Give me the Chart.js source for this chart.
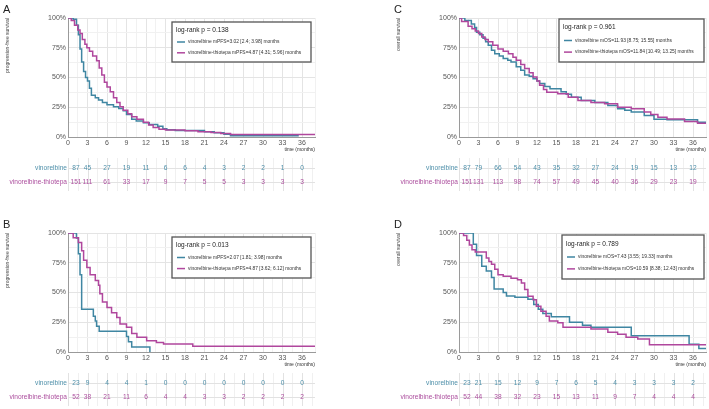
<!DOCTYPE html>
<html>
<head>
<meta charset="utf-8">
<script src="https://cdn.jsdelivr.net/npm/chart.js@4.4.1/dist/chart.umd.min.js"></script>
<style>
  body { margin: 0; background: #fff; width: 709px; height: 409px; position: relative; overflow: hidden; }
  .panel { position: absolute; width: 318px; height: 215px; }
</style>
</head>
<body>
<div class="panel" style="left:0;top:0"><canvas id="chartA" width="318" height="215"></canvas></div>
<div class="panel" style="left:391px;top:0"><canvas id="chartC" width="318" height="215"></canvas></div>
<div class="panel" style="left:0;top:215px"><canvas id="chartB" width="318" height="215"></canvas></div>
<div class="panel" style="left:391px;top:215px"><canvas id="chartD" width="318" height="215"></canvas></div>
<script>
// time points of the number-at-risk table (months)
var riskTimes = [0, 3, 6, 9, 12, 15, 18, 21, 24, 27, 30, 33, 36];
var groupNames = ['vinorelbine', 'vinorelbine-thiotepa'];

// A: progression-free survival, all patients
var aVinTime = [0, 0.8, 1.3, 1.6, 1.85, 2.1, 2.4, 2.7, 3.0, 3.3, 3.6, 4.2, 4.7, 5.3, 6.0, 7.0, 7.8, 8.5, 9.0, 9.8, 10.5, 11.6, 12.5, 13.8, 14.6, 15.2, 16.5, 21.0, 22.5, 24.0, 25.0, 35.5];
var aVinSurv = [100, 98.9, 94, 86, 74, 63, 55, 50, 47, 41, 35, 33, 31, 29, 27, 25.5, 24, 22, 19, 15, 13.5, 12, 10.5, 9, 7, 6, 5.5, 4.5, 3.5, 2.3, 1.1, 1.1];
var aThioTime = [0, 0.5, 1.0, 1.5, 1.85, 2.2, 2.6, 2.9, 3.3, 3.8, 4.4, 4.8, 5.2, 5.6, 6.0, 6.5, 7.0, 7.5, 8.0, 8.5, 9.2, 9.8, 10.6, 11.6, 12.4, 13.1, 14.0, 15.0, 18.0, 20.0, 22.0, 23.5, 25.0, 38];
var aThioSurv = [100, 98, 94, 90, 87, 82, 78, 75, 72, 68, 64, 58, 52, 46, 42, 38, 33, 29, 25.5, 22.5, 19.5, 17, 15, 12.5, 10, 8, 6.5, 5.8, 5.2, 4.5, 3.8, 3, 2, 2];
var aRiskVin = [87, 45, 27, 19, 11, 6, 6, 4, 3, 2, 2, 1, 0];
var aRiskThio = [151, 111, 61, 33, 17, 9, 7, 5, 5, 3, 3, 3, 3];
var aLegend = ['vinorelbine mPFS=3.02 [2.4; 3.98] months', 'vinorelbine-thiotepa mPFS=4.87 [4.31; 5.96] months'];

// B: progression-free survival, subgroup
var bVinTime = [0, 1.3, 1.6, 1.85, 2.1, 3.9, 4.2, 4.4, 4.8, 9.0, 9.3, 9.8, 12.6];
var bVinSurv = [100, 95.7, 82.6, 65, 36, 30, 26, 21.7, 17.4, 13, 8.7, 4.3, 0];
var bThioTime = [0, 0.8, 1.6, 2.1, 2.4, 2.9, 3.4, 4.2, 4.7, 4.9, 5.3, 6.0, 6.7, 7.5, 8.0, 9.0, 9.8, 10.6, 12.1, 13.6, 14.7, 19.2, 38];
var bThioSurv = [100, 96, 92, 85, 77, 71, 65, 60, 56, 49, 42, 37.5, 33, 29, 23.5, 20.7, 15.5, 12.3, 9.5, 8, 6.7, 4.8, 4.8];
var bRiskVin = [23, 9, 4, 4, 1, 0, 0, 0, 0, 0, 0, 0, 0];
var bRiskThio = [52, 38, 21, 11, 6, 4, 4, 3, 3, 2, 2, 2, 2];
var bLegend = ['vinorelbine mPFS=2.07 [1.81; 3.98] months', 'vinorelbine-thiotepa mPFS=4.87 [3.62; 6.12] months'];

// C: overall survival, all patients
var cVinTime = [0, 0.9, 1.9, 2.4, 2.7, 3.2, 3.7, 4.1, 4.5, 5.0, 5.5, 6.2, 6.8, 7.5, 8.0, 8.8, 9.5, 10.1, 10.8, 11.4, 12.0, 12.4, 13.2, 14.0, 15.7, 16.5, 17.3, 18.8, 20.9, 22.9, 24.4, 25.5, 26.5, 28.5, 30.0, 32.0, 36.7, 38];
var cVinSurv = [100, 98, 95, 92, 88, 86, 83, 80, 77, 73, 70, 68, 66, 64.5, 63, 59, 56, 52, 51, 49, 47, 45, 42.5, 40.5, 38, 36, 33.5, 30.7, 29, 26.5, 23.7, 22.5, 21, 18, 15, 14.4, 12.4, 12.4];
var cThioTime = [0, 0.4, 1.4, 2.0, 2.5, 3.0, 3.5, 4.0, 4.5, 5.2, 6.0, 6.8, 7.6, 8.3, 8.8, 9.5, 10.1, 10.8, 11.4, 12.0, 12.4, 13.0, 13.5, 15.2, 16.8, 18.3, 20.3, 22.4, 24.4, 26.5, 28.5, 29.5, 30.6, 32.0, 34.7, 36.7, 38];
var cThioSurv = [100, 97, 93, 91, 89, 87, 84, 82, 80, 77, 74, 72, 70, 67, 64.5, 61, 57.5, 54, 50.5, 47, 43.4, 40, 37.7, 36.3, 33.5, 30.7, 29, 28, 25, 23.7, 21, 19, 16.6, 15.2, 13, 11.5, 11.5];
var cRiskVin = [87, 79, 66, 54, 43, 35, 32, 27, 24, 19, 15, 13, 12];
var cRiskThio = [151, 131, 113, 98, 74, 57, 49, 45, 40, 36, 29, 23, 19];
var cLegend = ['vinorelbine mOS=11.93 [8.75; 15.55] months', 'vinorelbine-thiotepa mOS=11.84 [10.49; 13.25] months'];

// D: overall survival, subgroup
var dVinTime = [0, 2.2, 2.7, 3.5, 4.2, 5.0, 5.4, 6.8, 7.3, 8.6, 10.6, 11.5, 12.2, 12.9, 14.2, 17.0, 19.0, 20.3, 26.5, 35.4, 36.9, 38];
var dVinSurv = [100, 90.5, 81, 72, 68, 62.6, 53, 50, 47, 46, 44.4, 40, 36, 32.4, 29.6, 25, 22.5, 20.7, 13.7, 6.5, 2.9, 2.9];
var dThioTime = [0, 0.7, 1.2, 1.6, 2.0, 2.5, 4.2, 4.6, 5.0, 5.5, 6.0, 6.8, 8.0, 9.0, 9.6, 10.1, 10.6, 11.4, 11.9, 12.6, 13.4, 13.9, 15.2, 16.0, 20.3, 22.9, 24.4, 25.7, 27.5, 29.3, 38];
var dThioSurv = [100, 98, 94, 90, 86, 84, 79, 76, 73.7, 69.5, 65, 63.6, 62, 60.8, 58, 52.5, 46.9, 44, 38.5, 34.3, 30.1, 26, 24.6, 20.7, 19.3, 16.5, 15, 12.3, 10.9, 6, 6];
var dRiskVin = [23, 21, 15, 12, 9, 7, 6, 5, 4, 3, 3, 3, 2];
var dRiskThio = [52, 44, 38, 32, 23, 15, 13, 11, 9, 7, 4, 4, 4];
var dLegend = ['vinorelbine mOS=7.43 [3.55; 19.33] months', 'vinorelbine-thiotepa mOS=10.59 [8.38; 12.43] months'];

var tealColor = '#3f86a2';
var magentaColor = '#b0479d';
var tealText = '#4f90aa';
var magentaText = '#ac4f9e';
var fontName = '"Liberation Sans", Arial, sans-serif';

function toPoints(times, surv) {
    return times.map(function(t, i) { return { x: t, y: surv[i] }; });
}

// letter, axis title, legend box and number-at-risk table
var kmExtras = {
    id: 'kmExtras',
    afterDraw: function(chart, args, o) {
        var ctx = chart.ctx;
        var area = chart.chartArea;
        var xs = chart.scales.x;
        ctx.save();

        // panel letter
        ctx.fillStyle = '#222';
        ctx.font = '11px ' + fontName;
        ctx.textAlign = 'left';
        ctx.textBaseline = 'alphabetic';
        ctx.fillText(o.letter, 3, 13);

        // y title, top aligned
        ctx.save();
        ctx.translate(8, area.top);
        ctx.rotate(-Math.PI / 2);
        ctx.font = '5px ' + fontName;
        ctx.fillStyle = '#444';
        ctx.textAlign = 'right';
        ctx.textBaseline = 'middle';
        ctx.fillText(o.yTitle, 0, 0);
        ctx.restore();

        // x title
        ctx.font = '5px ' + fontName;
        ctx.fillStyle = '#333';
        ctx.textAlign = 'right';
        ctx.textBaseline = 'middle';
        ctx.fillText('time (months)', area.right, 150);

        // legend box
        var bx = area.left + o.box[0], by = area.top + o.box[1], bw = o.box[2], bh = o.box[3];
        ctx.fillStyle = '#fff';
        ctx.fillRect(bx, by, bw, bh);
        ctx.strokeStyle = '#555';
        ctx.lineWidth = 1.3;
        ctx.strokeRect(bx, by, bw, bh);
        ctx.fillStyle = '#222';
        ctx.textAlign = 'left';
        ctx.font = '6.5px ' + fontName;
        ctx.fillText(o.pText, bx + 4, by + bh * 0.2);
        var cols = [tealColor, magentaColor];
        ctx.font = '4.9px ' + fontName;
        [0.5, 0.77].forEach(function(f, i) {
            var ly = by + bh * f;
            ctx.strokeStyle = cols[i];
            ctx.lineWidth = 1.5;
            ctx.beginPath();
            ctx.moveTo(bx + 5, ly);
            ctx.lineTo(bx + 13, ly);
            ctx.stroke();
            ctx.fillStyle = '#333';
            ctx.fillText(o.legend[i], bx + 16, ly);
        });

        // number at risk table
        var rows = [168, 182];
        ctx.lineWidth = 1;
        for (var t = 0; t <= 38; t += 1.5) {
            var gx = Math.round(xs.getPixelForValue(t)) + 0.5;
            ctx.strokeStyle = t % 3 === 0 ? '#e2e2e2' : '#f0f0f0';
            ctx.beginPath();
            ctx.moveTo(gx, 158);
            ctx.lineTo(gx, 191);
            ctx.stroke();
        }
        ctx.strokeStyle = '#e2e2e2';
        rows.forEach(function(ry) {
            ctx.beginPath();
            ctx.moveTo(area.left, ry + 0.5);
            ctx.lineTo(area.right, ry + 0.5);
            ctx.stroke();
        });
        var series = [o.riskVin, o.riskThio];
        var txtCols = [tealText, magentaText];
        ctx.font = '6.6px ' + fontName;
        ctx.textBaseline = 'middle';
        series.forEach(function(vals, r) {
            ctx.fillStyle = txtCols[r];
            ctx.textAlign = 'right';
            ctx.fillText(groupNames[r], area.left - 1, rows[r]);
            ctx.textAlign = 'center';
            vals.forEach(function(v, i) {
                var px = xs.getPixelForValue(riskTimes[i]);
                if (i === 0) px += 8;
                ctx.fillText(String(v), px, rows[r]);
            });
        });
        ctx.restore();
    }
};

function makePanel(id, vinT, vinS, thioT, thioS, extras) {
    var ctx = document.getElementById(id).getContext('2d');
    return new Chart(ctx, {
        type: 'line',
        data: {
            datasets: [{
                label: groupNames[1],
                data: toPoints(thioT, thioS),
                borderColor: magentaColor,
                borderWidth: 1.5,
                stepped: true,
                pointRadius: 0,
                fill: false
            }, {
                label: groupNames[0],
                data: toPoints(vinT, vinS),
                borderColor: tealColor,
                borderWidth: 1.5,
                stepped: true,
                pointRadius: 0,
                fill: false
            }]
        },
        options: {
            responsive: false,
            animation: false,
            layout: { padding: { top: 18, right: 3, left: 0, bottom: 0 } },
            plugins: {
                legend: { display: false },
                tooltip: { enabled: false },
                kmExtras: extras
            },
            scales: {
                x: {
                    type: 'linear',
                    min: 0,
                    max: 38,
                    afterFit: function(s) { s.height = 78; },
                    border: { color: '#9a9a9a', width: 1 },
                    grid: {
                        drawTicks: false,
                        color: function(c) { return c.tick && c.tick.value % 3 === 0 ? '#e4e4e4' : '#f1f1f1'; }
                    },
                    ticks: {
                        stepSize: 1.5,
                        autoSkip: false,
                        maxRotation: 0,
                        padding: 2,
                        color: '#555',
                        font: { size: 7, family: fontName },
                        callback: function(v) { return v % 3 === 0 ? String(v) : ''; }
                    }
                },
                y: {
                    min: 0,
                    max: 100,
                    afterFit: function(s) { s.width = 68; },
                    border: { color: '#9a9a9a', width: 1 },
                    grid: {
                        drawTicks: false,
                        color: function(c) { return c.tick && c.tick.value % 25 === 0 ? '#e4e4e4' : '#f1f1f1'; }
                    },
                    ticks: {
                        stepSize: 12.5,
                        autoSkip: false,
                        padding: 2,
                        color: '#555',
                        font: { size: 7, family: fontName },
                        callback: function(v) { return v % 25 === 0 ? v + '%' : ''; }
                    }
                }
            }
        },
        plugins: [kmExtras]
    });
}

makePanel('chartA', aVinTime, aVinSurv, aThioTime, aThioSurv, {
    letter: 'A', yTitle: 'progression-free survival', pText: 'log-rank p = 0.138',
    legend: aLegend, riskVin: aRiskVin, riskThio: aRiskThio, box: [104, 4, 139, 40]
});
makePanel('chartB', bVinTime, bVinSurv, bThioTime, bThioSurv, {
    letter: 'B', yTitle: 'progression-free survival', pText: 'log-rank p = 0.013',
    legend: bLegend, riskVin: bRiskVin, riskThio: bRiskThio, box: [104, 4, 139, 41]
});
makePanel('chartC', cVinTime, cVinSurv, cThioTime, cThioSurv, {
    letter: 'C', yTitle: 'overall survival', pText: 'log-rank p = 0.961',
    legend: cLegend, riskVin: cRiskVin, riskThio: cRiskThio, box: [100, 1, 145, 43]
});
makePanel('chartD', dVinTime, dVinSurv, dThioTime, dThioSurv, {
    letter: 'D', yTitle: 'overall survival', pText: 'log-rank p = 0.789',
    legend: dLegend, riskVin: dRiskVin, riskThio: dRiskThio, box: [103, 2, 142, 44]
});
</script>
</body>
</html>
